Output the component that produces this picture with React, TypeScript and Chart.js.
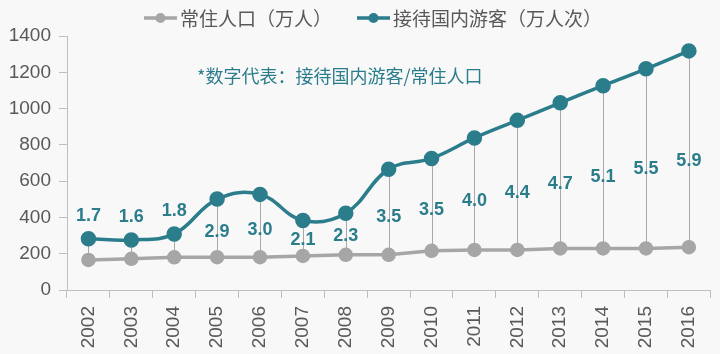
import React, { useEffect, useRef } from "react";
import { Chart, registerables } from "chart.js";

Chart.register(...registerables);

const years = ["2002","2003","2004","2005","2006","2007","2008","2009","2010","2011","2012","2013","2014","2015","2016"];
const population = [166, 172, 180, 181, 181, 188, 194, 194, 216, 221, 221, 229, 229, 229, 236];
const visitors = [282, 276, 309, 501, 527, 383, 423, 666, 725, 838, 935, 1032, 1126, 1219, 1318];
const ratioLabels = ["1.7","1.6","1.8","2.9","3.0","2.1","2.3","3.5","3.5","4.0","4.4","4.7","5.1","5.5","5.9"];
const seriesNames = ["常住人口（万人）", "接待国内游客（万人次）"];
const noteText = "*数字代表：接待国内游客/常住人口";

const TEAL = "#2b7d8c";
const GRAY = "#a6a6a6";
const TEXT = "#595959";
const AXIS = "#bfbfbf";
const CJK = "'Noto Sans CJK SC', 'Liberation Sans', sans-serif";
const NUM = "'Liberation Sans', Arial, sans-serif";

const overlayPlugin = {
  id: "overlay",
  beforeDraw(chart: any) {
    const { ctx, width, height } = chart;
    ctx.save();
    ctx.fillStyle = "#f8f8f8";
    ctx.fillRect(0, 0, width, height);
    ctx.restore();
  },
  beforeDatasetsDraw(chart: any) {
    const { ctx } = chart;
    const m0 = chart.getDatasetMeta(0).data;
    const m1 = chart.getDatasetMeta(1).data;
    ctx.save();
    ctx.strokeStyle = "#a8a8a8";
    ctx.lineWidth = 1;
    for (let i = 0; i < m0.length; i++) {
      const x = Math.round(m1[i].x) + 0.5;
      ctx.beginPath();
      ctx.moveTo(x, m1[i].y);
      ctx.lineTo(x, m0[i].y);
      ctx.stroke();
    }
    ctx.restore();
  },
  afterDatasetsDraw(chart: any) {
    const { ctx } = chart;
    const m0 = chart.getDatasetMeta(0).data;
    const m1 = chart.getDatasetMeta(1).data;
    ctx.save();
    // ratio labels
    ctx.font = "bold 18px " + NUM;
    ctx.fillStyle = TEAL;
    ctx.textAlign = "center";
    ctx.textBaseline = "middle";
    for (let i = 0; i < m0.length; i++) {
      const top = m1[i].y;
      const bot = m0[i].y;
      const gap = bot - top;
      const y = gap < 30 ? top - 23 : top + gap * 0.56;
      ctx.fillText(ratioLabels[i], m1[i].x, y);
    }
    // note
    ctx.font = "18px " + CJK;
    ctx.textAlign = "left";
    ctx.fillText(noteText, 197, 76);
    // legend
    const items = [
      { color: GRAY, text: seriesNames[0], x: 144 },
      { color: TEAL, text: seriesNames[1], x: 357 },
    ];
    ctx.font = "19px " + CJK;
    for (const it of items) {
      const y = 18;
      ctx.strokeStyle = it.color;
      ctx.lineWidth = 3.5;
      ctx.beginPath();
      ctx.moveTo(it.x, y);
      ctx.lineTo(it.x + 33, y);
      ctx.stroke();
      ctx.fillStyle = it.color;
      ctx.beginPath();
      ctx.arc(it.x + 16.5, y, 5, 0, Math.PI * 2);
      ctx.fill();
      ctx.fillStyle = TEXT;
      ctx.textBaseline = "middle";
      ctx.fillText(it.text, it.x + 36, y + 1);
    }
    ctx.restore();
  },
};

export default function App() {
  const ref = useRef<HTMLCanvasElement>(null);
  useEffect(() => {
    if (!ref.current) return;
    const chart = new Chart(ref.current, {
      type: "line",
      data: {
        labels: years,
        datasets: [
          {
            label: seriesNames[0],
            data: population,
            borderColor: GRAY,
            backgroundColor: GRAY,
            pointBackgroundColor: GRAY,
            pointBorderColor: GRAY,
            borderWidth: 3.5,
            pointRadius: 5.5,
            tension: 0,
          },
          {
            label: seriesNames[1],
            data: visitors,
            borderColor: TEAL,
            backgroundColor: TEAL,
            pointBackgroundColor: TEAL,
            pointBorderColor: TEAL,
            borderWidth: 3.5,
            pointRadius: 6,
            tension: 0.4,
          },
        ],
      },
      options: {
        animation: false,
        responsive: false,
        maintainAspectRatio: false,
        layout: { padding: { top: 36, right: 8, left: 0, bottom: 0 } },
        plugins: {
          legend: { display: false },
          tooltip: { enabled: false },
        },
        scales: {
          x: {
            offset: true,
            border: { color: AXIS },
            grid: { drawOnChartArea: false, color: AXIS, tickLength: 8, offset: true },
            ticks: {
              color: TEXT,
              font: { family: NUM, size: 19 },
              minRotation: 90,
              maxRotation: 90,
              padding: 8,
            },
            afterFit(s: any) {
              s.height = 64;
            },
          },
          y: {
            min: 0,
            max: 1400,
            border: { color: AXIS },
            grid: { drawOnChartArea: false, color: AXIS, tickLength: 8 },
            ticks: {
              stepSize: 200,
              color: TEXT,
              font: { family: NUM, size: 19 },
              padding: 8,
              callback: (v: any) => String(v),
            },
            afterFit(s: any) {
              s.width = 67;
            },
          },
        },
      },
      plugins: [overlayPlugin],
    });
    return () => chart.destroy();
  }, []);
  return (
    <div style={{ position: "absolute", left: 0, top: 0, width: 720, height: 354 }}>
      <canvas ref={ref} width={720} height={354} style={{ width: 720, height: 354, display: "block" }} />
    </div>
  );
}
